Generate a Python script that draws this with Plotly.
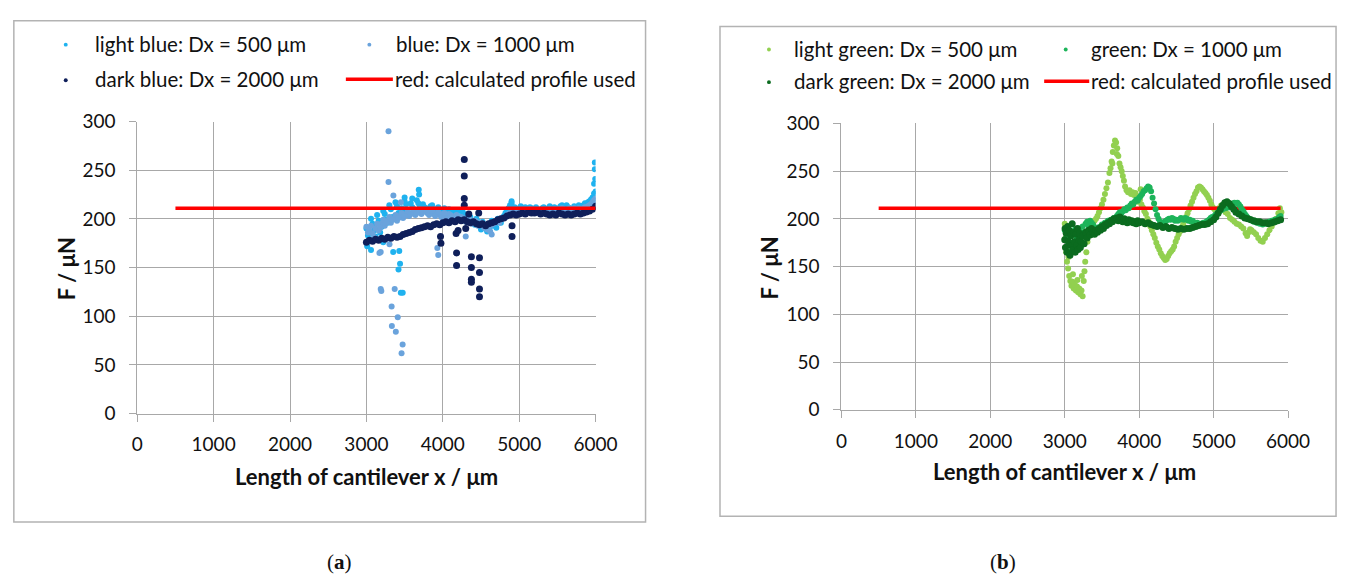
import plotly.graph_objects as go

W, H = 1360, 585

# ---------------- DATA: panel (a) ----------------
lb_x = [3000, 3040, 3080, 3120, 3160, 3200, 3240, 3280, 3320, 3360, 3400, 3440, 3480, 3520, 3560, 3600,
        3640, 3680, 3720, 3760, 3800, 3840, 3880, 3920, 3960, 4000, 4040, 4080, 4120, 4160, 4200, 4240,
        4280, 4320, 4360, 4400, 4440, 4480, 4520, 4560, 4600, 4640, 4680, 4720, 4760, 4800, 4840, 4880,
        4920, 4960, 5000, 5040, 5080, 5120, 5160, 5200, 5240, 5280, 5320, 5360, 5400, 5440, 5480, 5520,
        5560, 5600, 5640, 5680, 5720, 5760, 5800, 5840, 5880, 5920, 5960, 6000,
        3020, 3060, 3100, 3140, 3180, 3220, 3260, 3300, 3340, 3380, 3420, 3460, 3500, 3540, 3580, 3620,
        3660, 3700, 3740, 3780, 3820, 3860, 3900, 3940, 3980, 4020, 4060, 4100, 4140, 4180, 4220, 4260,
        4300, 4340, 4380, 4420, 4460, 4500, 4540, 4580, 4620, 4660, 4700, 4740, 4780, 4820, 4860, 4900,
        4940, 4980, 5020, 5060, 5100, 5140, 5180, 5220, 5260, 5300, 5340, 5380, 5420, 5460, 5500, 5540,
        5580, 5620, 5660, 5700, 5740, 5780, 5820, 5860, 5900, 5940, 5980,
        3685, 3690, 3500, 3600, 4900, 5990, 5990, 5995, 5980, 3350, 3430, 3440, 3420, 3450, 3475, 3220, 3010, 3060]
lb_y = [190, 185, 195, 182, 198, 192, 205, 196, 210, 200, 213, 203, 208, 215, 205, 212,
        207, 216, 209, 212, 206, 213, 208, 210, 205, 209, 204, 210, 206, 203, 208, 202,
        205, 199, 202, 196, 200, 193, 197, 190, 195, 198, 193, 200, 196, 203, 208, 214,
        210, 207, 211, 208, 212, 209, 211, 207, 210, 208, 212, 209, 213, 210, 208, 211,
        214, 209, 212, 210, 213, 209, 211, 214, 215, 218, 222, 228,
        183, 200, 188, 204, 186, 208, 199, 214, 202, 217, 206, 211, 218, 209, 216, 210,
        219, 212, 215, 209, 211, 214, 207, 212, 208, 211, 207, 204, 209, 205, 200, 207,
        201, 204, 198, 194, 197, 189, 193, 187, 192, 196, 191, 198, 201, 206, 211, 216,
        212, 209, 213, 210, 208, 212, 209, 212, 209, 211, 207, 211, 208, 212, 209, 213,
        210, 214, 211, 209, 212, 214, 212, 216, 217, 220, 226,
        230, 225, 222, 221, 218, 258, 251, 241, 236, 166, 167, 154, 148, 124, 124, 176, 172, 168]

b_x = [3000, 3040, 3080, 3120, 3160, 3200, 3240, 3280, 3320, 3360, 3400, 3440, 3480, 3520, 3560, 3600,
       3640, 3680, 3720, 3760, 3800, 3840, 3880, 3920, 3960, 4000, 4040, 4080, 4120, 4160, 4200, 4240,
       4280, 4320, 4360, 4400, 4440, 4480, 4520, 4560, 4600, 4640, 4680, 4720, 4760, 4800, 4840, 4880,
       4920, 4960, 5000, 5040, 5080, 5120, 5160, 5200, 5240, 5280, 5320, 5360, 5400, 5440, 5480, 5520,
       5560, 5600, 5640, 5680, 5720, 5760, 5800, 5840, 5880, 5920, 5960, 6000,
       3020, 3060, 3100, 3140, 3180, 3220, 3260, 3300, 3340, 3380, 3420, 3460, 3500, 3540, 3580, 3620,
       3660, 3700, 3740, 3780, 3820, 3860, 3900, 3940, 3980, 4020, 4060, 4100, 4140, 4180, 4220, 4260,
       4300, 4340, 4380, 4420, 4460, 4500, 4540, 4580, 4620, 4660, 4700, 4740, 4780, 4820, 4860, 4900,
       4940, 4980, 5020, 5060, 5100, 5140, 5180, 5220, 5260, 5300, 5340, 5380, 5420, 5460, 5500, 5540,
       5580, 5620, 5660, 5700, 5740, 5780, 5820, 5860, 5900, 5940, 5980,
       3289, 3289, 3353, 3451, 3187, 3170, 3302, 3187, 3195, 3370, 3410, 3385, 3333, 3474, 3460, 3330,
       3928, 3940, 4300, 4620, 4640]
b_y = [192, 188, 185, 190, 188, 195, 193, 198, 196, 200, 198, 203, 201, 205, 203, 206,
       204, 207, 205, 208, 206, 207, 205, 206, 204, 205, 203, 205, 202, 203, 201, 202,
       200, 198, 199, 196, 197, 195, 193, 194, 192, 194, 196, 198, 199, 201, 204, 206,
       207, 206, 208, 207, 209, 208, 209, 207, 208, 207, 209, 208, 210, 209, 208, 210,
       211, 209, 210, 209, 211, 210, 209, 211, 212, 214, 217, 221,
       186, 193, 181, 195, 191, 199, 196, 202, 199, 204, 201, 206, 203, 208, 205, 209,
       206, 210, 207, 209, 204, 208, 203, 207, 202, 206, 201, 204, 200, 204, 199, 201,
       197, 200, 195, 198, 193, 196, 191, 189, 193, 195, 197, 196, 200, 202, 205, 208,
       205, 209, 206, 208, 207, 210, 208, 209, 206, 208, 209, 207, 208, 210, 207, 209,
       210, 208, 211, 208, 210, 211, 210, 212, 213, 215, 219,
       290, 238, 224, 217, 166, 165, 174, 128, 126, 128, 99, 84, 90, 71, 62, 110,
       170, 163, 182, 187, 184]

db_x = [3000, 3040, 3080, 3120, 3160, 3200, 3240, 3280, 3320, 3360, 3400, 3440, 3480, 3520, 3560, 3600,
        3640, 3680, 3720, 3760, 3800, 3840, 3880, 3920, 3960, 4000, 4040, 4080, 4120, 4160, 4200, 4240,
        4280, 4320, 4360, 4400, 4440, 4480, 4520, 4560, 4600, 4640, 4680, 4720, 4760, 4800, 4840, 4880,
        4920, 4960, 5000, 5040, 5080, 5120, 5160, 5200, 5240, 5280, 5320, 5360, 5400, 5440, 5480, 5520,
        5560, 5600, 5640, 5680, 5720, 5760, 5800, 5840, 5880, 5920, 5960, 6000,
        3970, 3975, 4174, 4180, 4180, 4281, 4281, 4281, 4281, 4340, 4374, 4374, 4374, 4374,
        4480, 4480, 4480, 4480, 4470, 4906, 4906, 4300, 4200]
db_y = [176, 178, 177, 179, 178, 180, 179, 181, 180, 182, 181, 182, 184, 185, 186, 187,
        189, 190, 191, 192, 193, 192, 194, 195, 194, 196, 197, 196, 198, 197, 199, 198,
        199, 197, 196, 197, 195, 194, 195, 193, 195, 196, 197, 199, 200, 201, 203, 204,
        205, 204, 205, 206, 205, 207, 206, 206, 207, 205, 206, 205, 204, 205, 204, 206,
        205, 204, 205, 204, 205, 206, 205, 206, 207, 208, 210, 213,
        182, 175, 185, 165, 152, 261, 244, 221, 214, 205, 161, 150, 138, 135,
        160, 145, 128, 120, 206, 193, 182, 190, 188]

red_a_x = [500, 6000]
red_a_y = [211, 211]

# ---------------- DATA: panel (b) ----------------
lg_x = [3000, 3010, 3020, 3030, 3045, 3060, 3075, 3090, 3105, 3120, 3135, 3150, 3165, 3180, 3195, 3210,
        3225, 3240, 3255, 3265, 3275, 3290, 3305, 3320, 3340, 3360, 3380, 3400, 3420, 3440, 3460, 3480,
        3500, 3520, 3540, 3560, 3580, 3600, 3615, 3630, 3645, 3660, 3675, 3690, 3705, 3720, 3735, 3750,
        3765, 3780, 3795, 3810, 3830, 3850, 3870, 3890, 3910, 3930, 3950, 3970, 3990, 4010, 4030, 4050,
        4070, 4090, 4110, 4130, 4150, 4170, 4190, 4210, 4230, 4250, 4270, 4290, 4310, 4330, 4350, 4370,
        4390, 4410, 4430, 4450, 4470, 4490, 4510, 4530, 4550, 4570, 4590, 4610, 4630, 4650, 4670, 4690,
        4710, 4730, 4750, 4770, 4790, 4810, 4830, 4850, 4870, 4890, 4910, 4930, 4950, 4970, 4990, 5010,
        5040, 5070, 5100, 5130, 5160, 5190, 5220, 5250, 5280, 5310, 5340, 5370, 5400, 5430, 5450, 5470,
        5490, 5510, 5540, 5570, 5600, 5630, 5660, 5690, 5720, 5750, 5780, 5810, 5840, 5870, 5890, 5910,
        3050, 3110, 3170, 3230, 3640, 3700, 3980, 4020]
lg_y = [195, 180, 165, 155, 148, 140, 135, 130, 134, 127, 131, 125, 129, 123, 127, 121,
        125, 119, 135, 145, 155, 165, 176, 183, 188, 192, 195, 198, 200, 203, 207, 211,
        215, 220, 226, 232, 238, 248, 253, 260, 270, 277, 282, 280, 274, 266, 258, 254,
        250, 245, 240, 234, 230, 228, 230, 226, 228, 225, 227, 224, 222, 220, 215, 212,
        208, 205, 200, 197, 192, 188, 184, 180, 175, 171, 168, 164, 161, 159, 157, 158,
        161, 164, 166, 168, 171, 176, 180, 184, 187, 190, 194, 198, 202, 206, 210, 214,
        218, 222, 226, 229, 233, 234, 233, 231, 229, 227, 225, 222, 219, 215, 212, 210,
        208, 211, 214, 211, 207, 205, 201, 199, 197, 195, 194, 192, 190, 185, 182, 186,
        189, 188, 186, 184, 180, 177, 176, 180, 184, 188, 192, 196, 200, 206, 211, 207,
        160, 142, 136, 140, 258, 268, 218, 231]

g_x = [3000, 3010, 3020, 3040, 3060, 3080, 3100, 3120, 3140, 3160, 3180, 3200, 3220, 3240, 3260, 3280,
       3300, 3320, 3340, 3360, 3380, 3400, 3420, 3440, 3460, 3480, 3500, 3520, 3540, 3560, 3580, 3600,
       3620, 3640, 3660, 3680, 3700, 3720, 3740, 3760, 3780, 3800, 3820, 3840, 3860, 3880, 3900, 3920,
       3940, 3960, 3980, 4000, 4020, 4040, 4060, 4080, 4100, 4120, 4140, 4160, 4180, 4200, 4220, 4240,
       4260, 4280, 4300, 4320, 4340, 4360, 4380, 4400, 4420, 4440, 4460, 4480, 4500, 4520, 4540, 4560,
       4580, 4600, 4620, 4640, 4660, 4680, 4700, 4720, 4740, 4760, 4780, 4800, 4820, 4840, 4860, 4880,
       4900, 4920, 4940, 4960, 4980, 5000, 5020, 5040, 5060, 5080, 5100, 5120, 5140, 5160, 5180, 5200,
       5220, 5240, 5260, 5280, 5300, 5320, 5340, 5360, 5380, 5400, 5420, 5440, 5460, 5480, 5500, 5520,
       5540, 5560, 5580, 5600, 5620, 5640, 5660, 5680, 5700, 5720, 5740, 5760, 5780, 5800, 5820, 5840,
       5860, 5880, 5900]
g_y = [188, 170, 180, 172, 182, 166, 186, 175, 189, 180, 185, 190, 183, 192, 186, 195,
       197, 193, 198, 196, 194, 191, 188, 191, 189, 192, 194, 191, 196, 193, 198, 196,
       199, 197, 201, 200, 203, 205, 207, 206, 208, 210, 209, 212, 211, 214, 216, 215,
       218, 220, 219, 222, 224, 226, 229, 230, 232, 234, 233, 229, 222, 216, 210, 204,
       200, 197, 196, 195, 197, 198, 199, 200, 199, 201, 200, 198, 199, 198, 199, 201,
       200, 199, 201, 200, 198, 199, 197, 198, 196, 195, 196, 194, 195, 194, 196, 195,
       197, 198, 199, 201, 202, 202, 204, 205, 207, 208, 209, 210, 212, 211, 213, 212,
       214, 215, 216, 217, 216, 217, 215, 213, 210, 208, 205, 203, 201, 200, 199, 198,
       197, 198, 196, 197, 195, 196, 194, 195, 196, 195, 197, 196, 198, 197, 199, 198,
       200, 202, 203]

dg_x = [3000, 3005, 3010, 3020, 3030, 3040, 3050, 3060, 3070, 3080, 3090, 3100, 3110, 3120, 3130, 3140,
        3150, 3160, 3170, 3180, 3190, 3200, 3210, 3220, 3240, 3260, 3280, 3300, 3320, 3340, 3360, 3380,
        3400, 3420, 3440, 3460, 3480, 3500, 3520, 3540, 3560, 3580, 3600, 3620, 3640, 3660, 3680, 3700,
        3720, 3740, 3760, 3780, 3800, 3820, 3840, 3860, 3880, 3900, 3920, 3940, 3960, 3980, 4000, 4040,
        4080, 4120, 4160, 4200, 4240, 4280, 4320, 4360, 4400, 4440, 4480, 4520, 4560, 4600, 4640, 4680,
        4720, 4760, 4800, 4840, 4880, 4920, 4960, 5000, 5030, 5060, 5090, 5120, 5150, 5180, 5210, 5240,
        5270, 5300, 5340, 5380, 5420, 5460, 5500, 5540, 5580, 5620, 5660, 5700, 5740, 5780, 5820, 5860,
        5900]
dg_y = [178, 190, 170, 185, 165, 192, 176, 188, 162, 182, 172, 195, 168, 186, 176, 165,
        184, 172, 190, 168, 178, 185, 170, 176, 182, 174, 186, 180, 188, 183, 190, 186,
        184, 188, 186, 190, 188, 192, 190, 194, 193, 196, 195, 198, 197, 200, 199, 201,
        198, 202, 199, 197, 200, 198, 196, 199, 197, 198, 196, 197, 195, 198, 196, 197,
        195, 196, 194, 193, 192, 193, 191, 192, 190, 191, 190, 189, 190, 189, 190, 190,
        191, 192, 193, 194, 194, 195, 197, 199, 202, 206, 210, 214, 217, 218, 216, 213,
        210, 207, 205, 203, 201, 200, 199, 198, 197, 197, 196, 196, 195, 196, 197, 198,
        199]

red_b_x = [500, 5900]
red_b_y = [211, 211]

tick_vals_x = [0, 1000, 2000, 3000, 4000, 5000, 6000]
tick_vals_y = [0, 50, 100, 150, 200, 250, 300]

# ---------------- STYLE ----------------
C_LB, C_B, C_DB = "#1fb2ef", "#6aa3dc", "#0f1f5a"
C_LG, C_G, C_DG = "#92d050", "#1db45a", "#0b6b1f"
RED = "#ff0000"
GRID = "#a8a8a8"
FONT = "Lato"
TXT = "#111111"


def X(p):
    return p / W


def Y(p):
    return 1 - p / H


fig = go.Figure()


def pts(x, y, c, xa, ya, size=6):
    fig.add_trace(go.Scatter(x=x, y=y, mode="markers", xaxis=xa, yaxis=ya,
                             marker=dict(color=c, size=size, line=dict(width=0)),
                             showlegend=False, hoverinfo="x+y"))


def redline(x, y, xa, ya):
    fig.add_trace(go.Scatter(x=x, y=y, mode="lines", xaxis=xa, yaxis=ya,
                             line=dict(color=RED, width=3.5), showlegend=False))


pts(lb_x, lb_y, C_LB, "x", "y", 6)
pts(b_x, b_y, C_B, "x", "y", 6)
pts(db_x, db_y, C_DB, "x", "y", 7)
redline(red_a_x, red_a_y, "x", "y")

pts(lg_x, lg_y, C_LG, "x2", "y2", 6)
redline(red_b_x, red_b_y, "x2", "y2")
pts(g_x, g_y, C_G, "x2", "y2", 6)
pts(dg_x, dg_y, C_DG, "x2", "y2", 7)

axis_common = dict(showgrid=True, gridcolor=GRID, gridwidth=1, showline=True, linecolor=GRID,
                   linewidth=1, ticks="outside", ticklen=7, tickcolor=GRID, zeroline=False,
                   tickfont=dict(family=FONT, size=19, color=TXT), fixedrange=True)

fig.update_layout(
    width=W, height=H, margin=dict(l=0, r=0, t=0, b=0),
    paper_bgcolor="white", plot_bgcolor="white", showlegend=False,
    xaxis=dict(domain=[X(134), X(602)], range=[0, 6000], tickvals=tick_vals_x,
               anchor="y", ticklabelstandoff=7, **axis_common),
    yaxis=dict(domain=[Y(418), Y(114)], range=[0, 300], tickvals=tick_vals_y,
               anchor="x", ticklabelstandoff=10, **axis_common),
    xaxis2=dict(domain=[X(853), X(1309)], range=[0, 6000], tickvals=tick_vals_x,
                anchor="y2", ticklabelstandoff=7, **axis_common),
    yaxis2=dict(domain=[Y(414), Y(116)], range=[0, 300], tickvals=tick_vals_y,
                anchor="x2", ticklabelstandoff=10, **axis_common),
)

shapes = []
# panel frames
shapes.append(dict(type="rect", xref="paper", yref="paper", x0=X(8), x1=X(653), y0=Y(531), y1=Y(9),
                   line=dict(color="#b3b3b3", width=1.5)))
shapes.append(dict(type="rect", xref="paper", yref="paper", x0=X(729), x1=X(1358), y0=Y(525), y1=Y(15),
                   line=dict(color="#b3b3b3", width=1.5)))

annotations = []


def txt(x, y, s, size=20.5, anchor="left", family=FONT, angle=0):
    annotations.append(dict(x=X(x), y=Y(y), xref="paper", yref="paper", text=s, showarrow=False,
                            xanchor=anchor, yanchor="middle", textangle=angle,
                            font=dict(family=family, size=size, color=TXT)))


def dot(x, y, c, r=2):
    shapes.append(dict(type="circle", xref="paper", yref="paper", x0=X(x - r), x1=X(x + r),
                       y0=Y(y + r), y1=Y(y - r), fillcolor=c, line=dict(width=0)))


def legline(x0, x1, y):
    shapes.append(dict(type="line", xref="paper", yref="paper", x0=X(x0), x1=X(x1), y0=Y(y), y1=Y(y),
                       line=dict(color=RED, width=3.5)))


# legend (a)
dot(61, 34, C_LB); txt(89, 33, "light blue: Dx = 500 μm")
dot(371, 34, C_B); txt(396, 33, "blue: Dx = 1000 μm")
dot(61, 71, C_DB); txt(89, 70, "dark blue: Dx = 2000 μm")
legline(347, 395, 70); txt(395, 70, "red: calculated profile used")
# legend (b)
dot(779, 39, C_LG); txt(803, 38, "light green: Dx = 500 μm")
dot(1082, 39, C_G); txt(1106, 38, "green: Dx = 1000 μm")
dot(779, 73, C_DG); txt(803, 72, "dark green: Dx = 2000 μm")
legline(1060, 1106, 72); txt(1106, 72, "red: calculated profile used")

# axis titles
txt(62, 267, "<b>F / μN</b>", size=22, anchor="center", angle=-90)
txt(368, 483, "<b>Length of cantilever x / μm</b>", size=22, anchor="center")
txt(780, 266, "<b>F / μN</b>", size=22, anchor="center", angle=-90)
txt(1081, 478, "<b>Length of cantilever x / μm</b>", size=22, anchor="center")

# panel labels
txt(340, 572, "(<b>a</b>)", size=21, anchor="center", family="Liberation Serif")
txt(1018, 572, "(<b>b</b>)", size=21, anchor="center", family="Liberation Serif")

fig.update_layout(shapes=shapes, annotations=annotations)

fig.write_html("out.html")
